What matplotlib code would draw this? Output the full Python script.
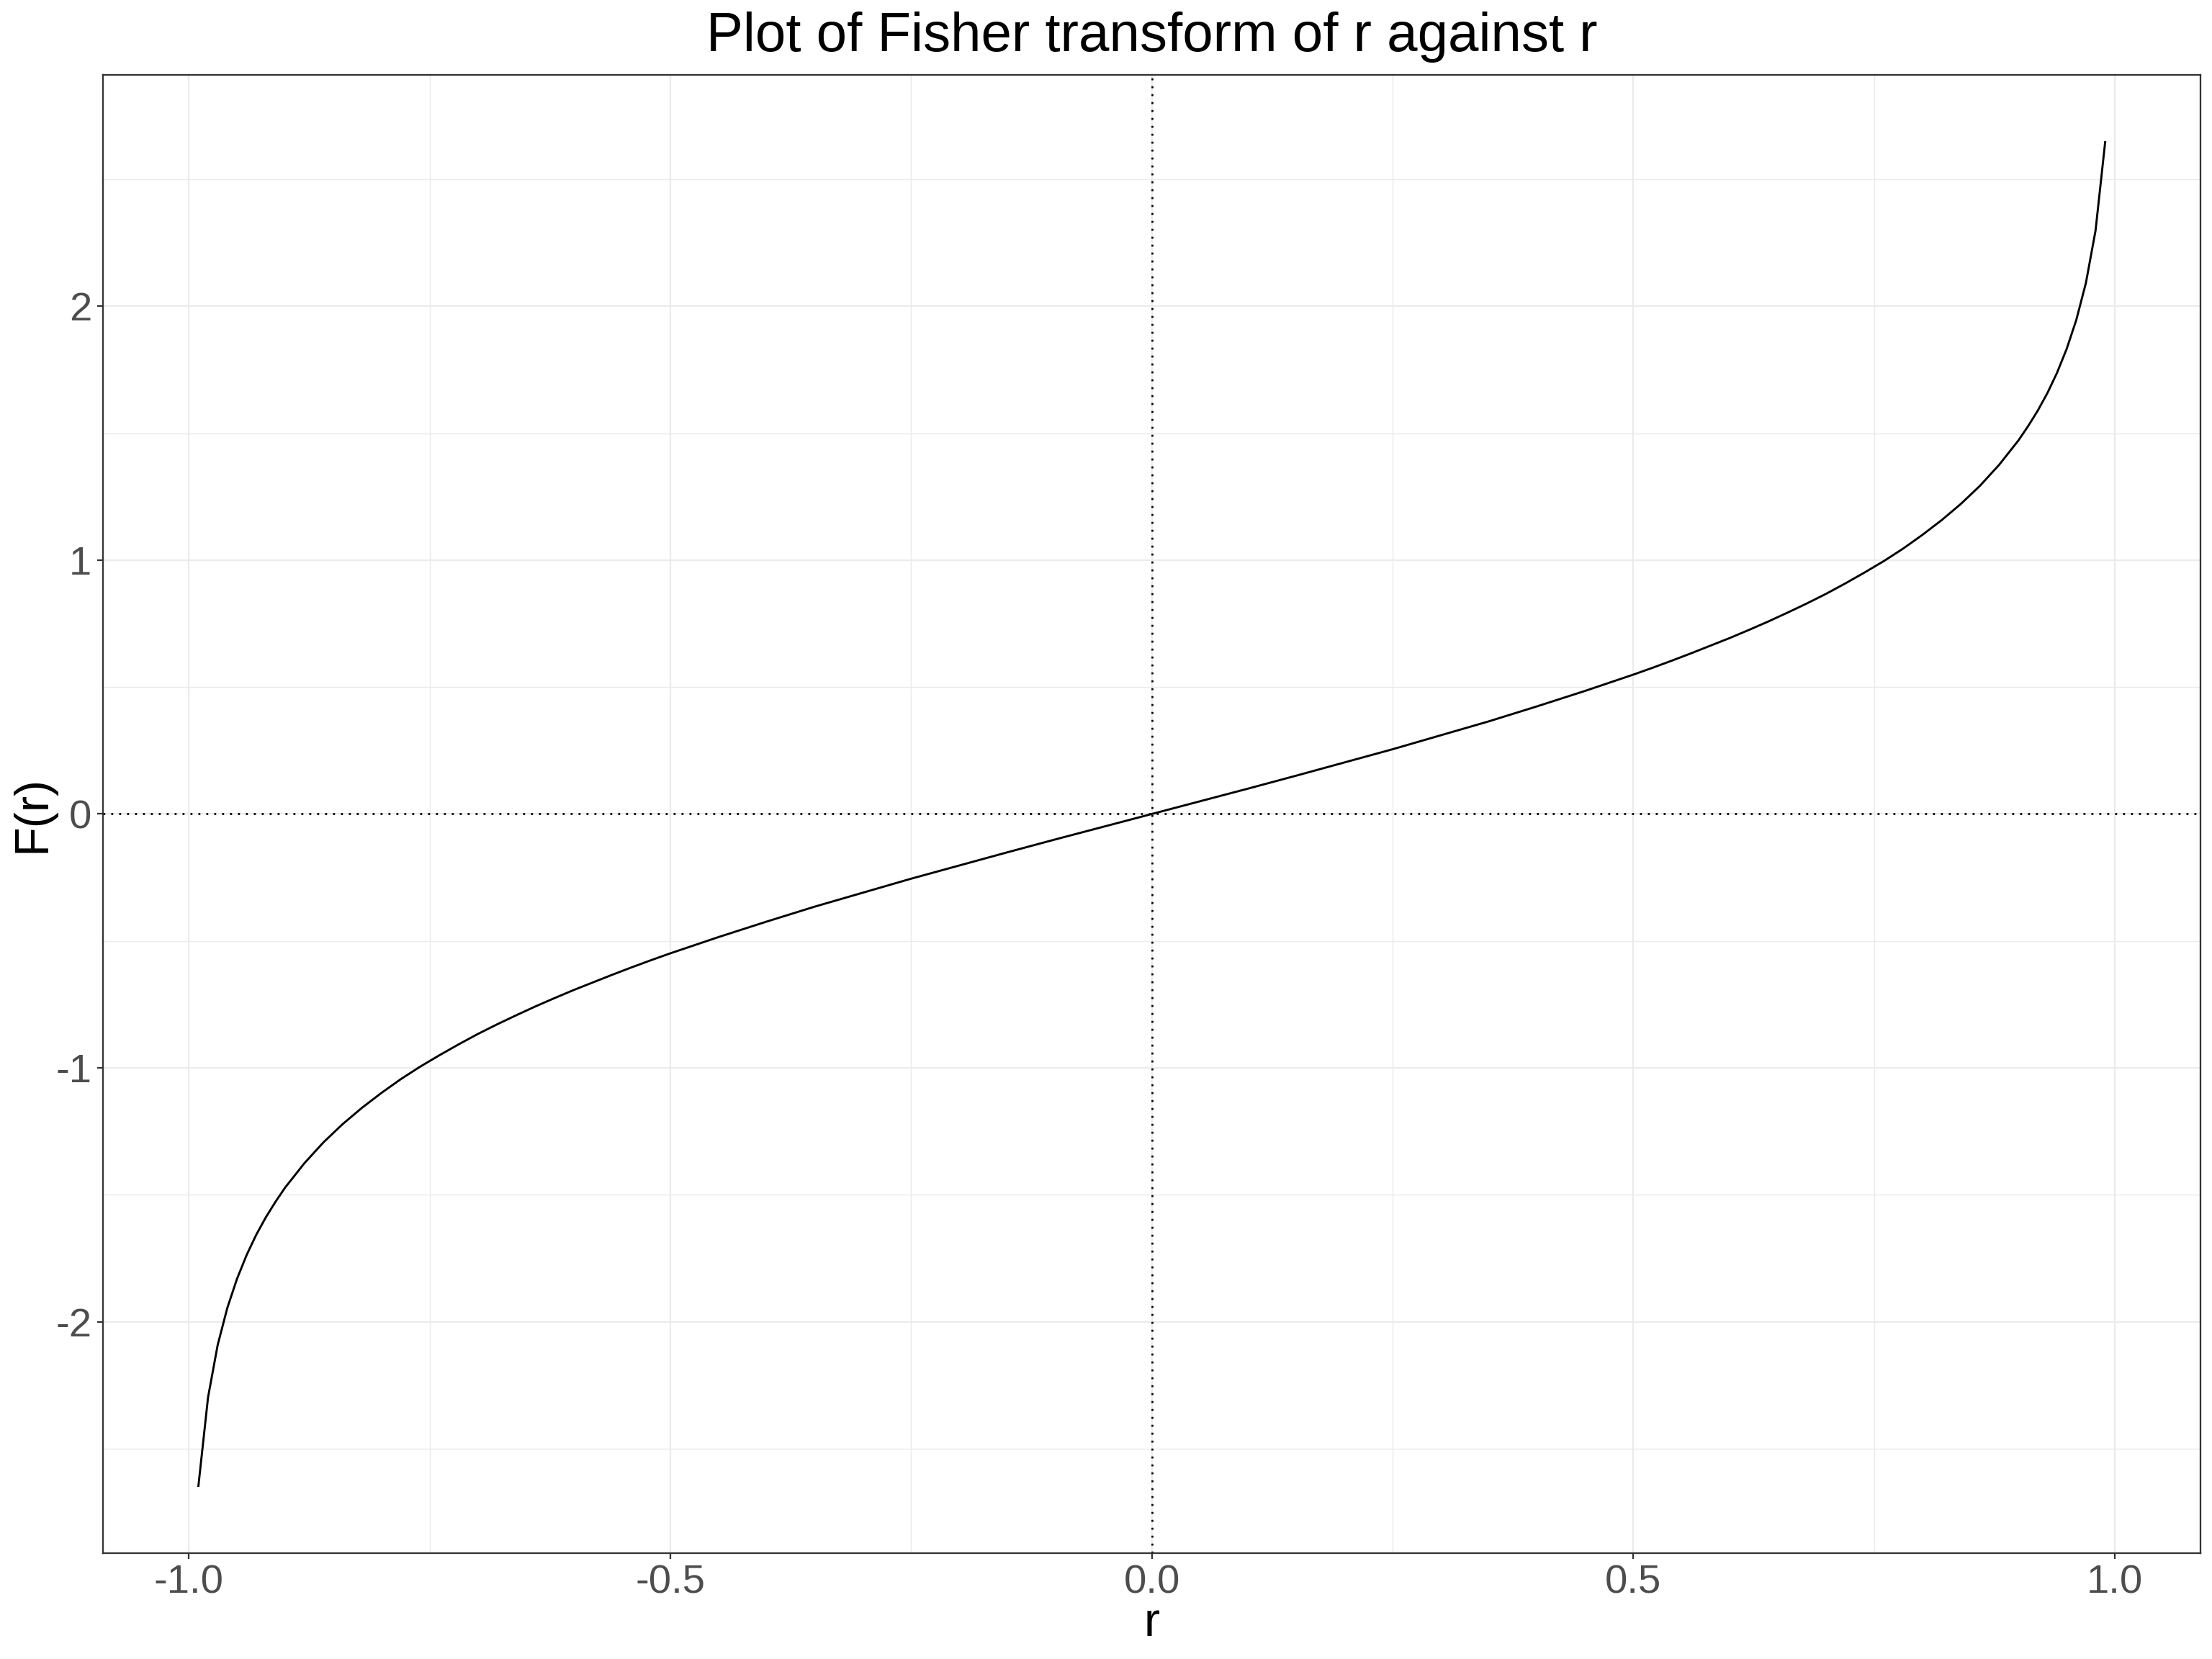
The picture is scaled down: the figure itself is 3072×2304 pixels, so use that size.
import matplotlib
matplotlib.use("Agg")
import matplotlib.pyplot as plt
from matplotlib.ticker import FixedLocator

plt.rcParams['font.family'] = ['Liberation Sans', 'DejaVu Sans']

# values
r_vals = [-0.99, -0.98, -0.97, -0.96, -0.95, -0.94, -0.93, -0.92, -0.91, -0.90,
          -0.88, -0.86, -0.84, -0.82, -0.80, -0.78, -0.76, -0.74, -0.72, -0.70,
          -0.68, -0.66, -0.64, -0.62, -0.60, -0.58, -0.56, -0.54, -0.52, -0.50,
          -0.45, -0.40, -0.35, -0.30, -0.25, -0.20, -0.15, -0.10, -0.05,
          0.00,
          0.05, 0.10, 0.15, 0.20, 0.25, 0.30, 0.35, 0.40, 0.45,
          0.50, 0.52, 0.54, 0.56, 0.58, 0.60, 0.62, 0.64, 0.66, 0.68,
          0.70, 0.72, 0.74, 0.76, 0.78, 0.80, 0.82, 0.84, 0.86, 0.88,
          0.90, 0.91, 0.92, 0.93, 0.94, 0.95, 0.96, 0.97, 0.98, 0.99]
F_vals = [-2.647, -2.298, -2.092, -1.946, -1.832, -1.738, -1.658, -1.589, -1.528, -1.472,
          -1.376, -1.293, -1.221, -1.157, -1.099, -1.045, -0.996, -0.951, -0.908, -0.867,
          -0.829, -0.793, -0.758, -0.725, -0.693, -0.663, -0.633, -0.604, -0.576, -0.549,
          -0.485, -0.424, -0.365, -0.310, -0.255, -0.203, -0.151, -0.100, -0.050,
          0.000,
          0.050, 0.100, 0.151, 0.203, 0.255, 0.310, 0.365, 0.424, 0.485,
          0.549, 0.576, 0.604, 0.633, 0.663, 0.693, 0.725, 0.758, 0.793, 0.829,
          0.867, 0.908, 0.951, 0.996, 1.045, 1.099, 1.157, 1.221, 1.293, 1.376,
          1.472, 1.528, 1.589, 1.658, 1.738, 1.832, 1.946, 2.092, 2.298, 2.647]

x_ticks = [-1.0, -0.5, 0.0, 0.5, 1.0]
x_tick_labels = ["-1.0", "-0.5", "0.0", "0.5", "1.0"]
x_minor = [-0.75, -0.25, 0.25, 0.75]
y_ticks = [-2, -1, 0, 1, 2]
y_tick_labels = ["-2", "-1", "0", "1", "2"]
y_minor = [-2.5, -1.5, -0.5, 0.5, 1.5, 2.5]

fig = plt.figure(figsize=(10.24, 7.68), dpi=300)
ax = fig.add_axes([0.0466, 0.0638, 0.9482, 0.8911])

# theme_bw style grid
grid_col = "#EBEBEB"
for v in x_ticks:
    ax.axvline(v, color=grid_col, lw=0.55, zorder=0)
for v in x_minor:
    ax.axvline(v, color=grid_col, lw=0.35, zorder=0)
for v in y_ticks:
    ax.axhline(v, color=grid_col, lw=0.55, zorder=0)
for v in y_minor:
    ax.axhline(v, color=grid_col, lw=0.35, zorder=0)

ax.axvline(0, color="black", lw=0.66, linestyle=(0, (1, 3)), zorder=1)
ax.axhline(0, color="black", lw=0.66, linestyle=(0, (1, 3)), zorder=1)

ax.plot(r_vals, F_vals, color="black", lw=0.7, zorder=2)

ax.set_xlim(-1.089, 1.089)
ax.set_ylim(-2.912, 2.912)
ax.xaxis.set_major_locator(FixedLocator(x_ticks))
ax.set_xticklabels(x_tick_labels)
ax.yaxis.set_major_locator(FixedLocator(y_ticks))
ax.set_yticklabels(y_tick_labels)

for s in ax.spines.values():
    s.set_color("#333333")
    s.set_linewidth(0.55)
ax.tick_params(axis="both", colors="#333333", length=2.0, width=0.55,
               labelsize=13.5, labelcolor="#4D4D4D", pad=1.8)

ax.set_xlabel("r", fontsize=16, va="center")
ax.xaxis.set_label_coords(0.5, -0.0477)
ax.set_ylabel("F(r)", fontsize=16, va="center")
ax.yaxis.set_label_coords(-0.0336, 0.5)
ax.set_title("Plot of Fisher transform of r against r", fontsize=18.3, pad=8)

fig.savefig("out.png", dpi=300, facecolor="white")
